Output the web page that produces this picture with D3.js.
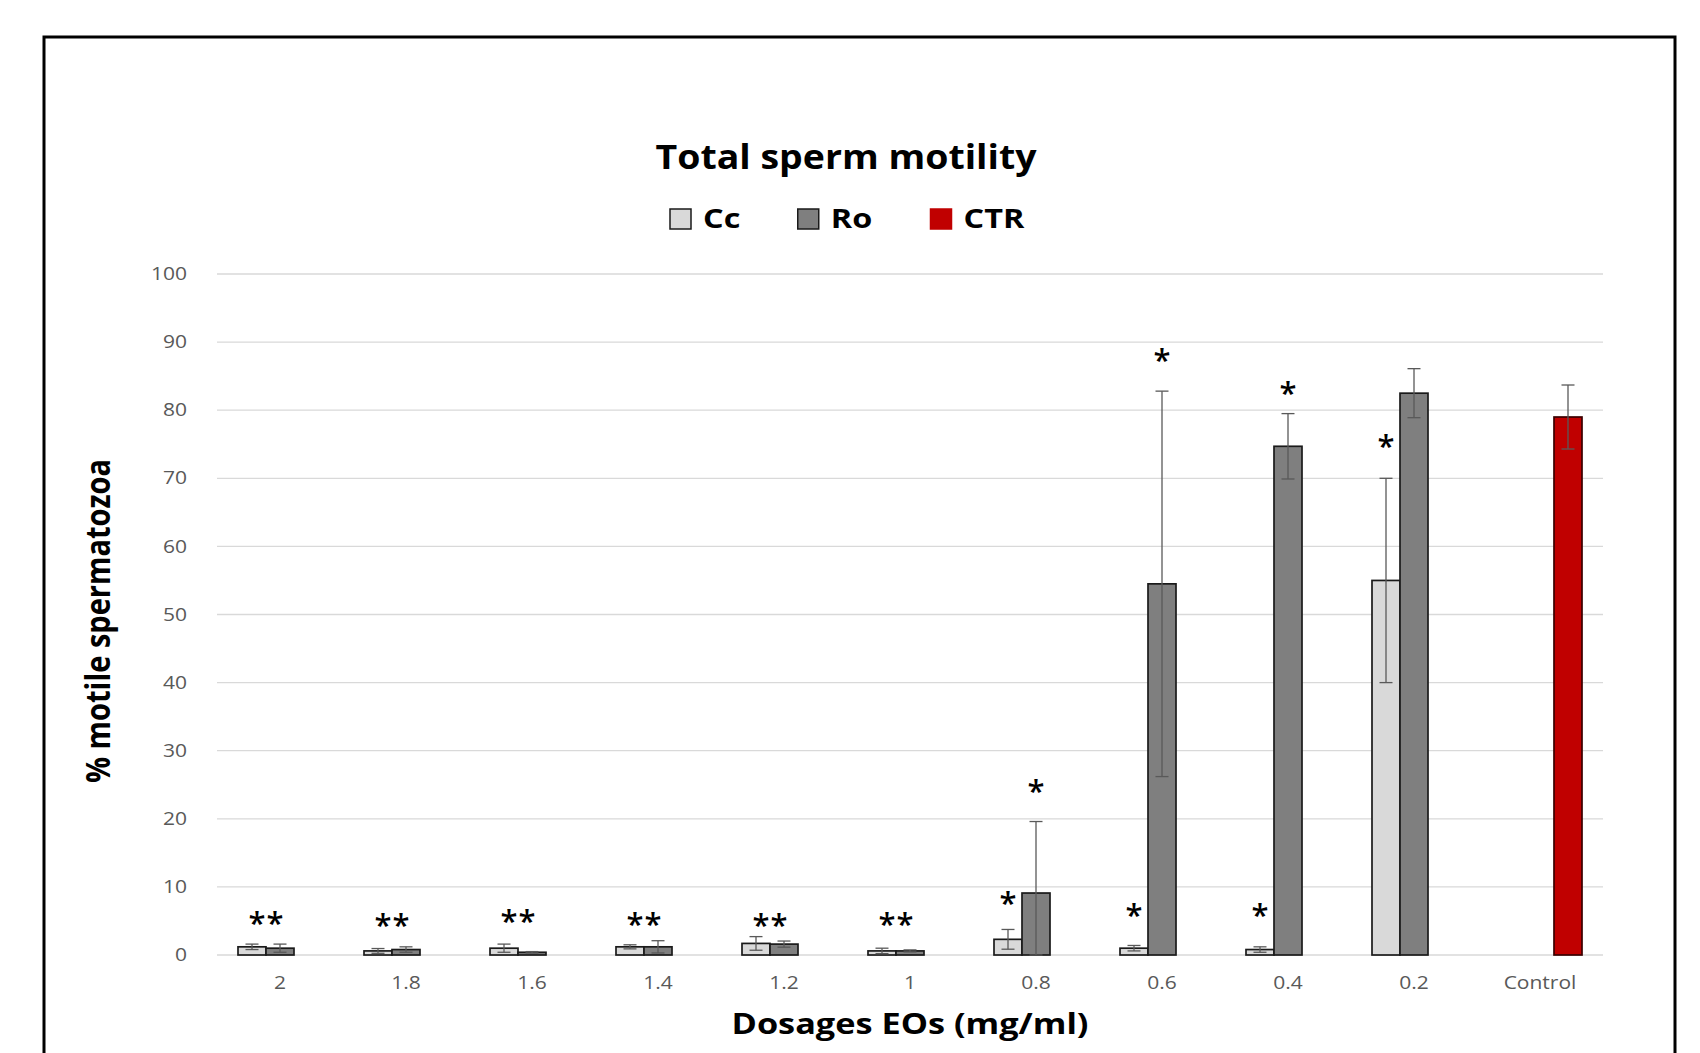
<!DOCTYPE html>
<html>
<head>
<meta charset="utf-8">
<script src="https://cdn.jsdelivr.net/npm/d3@7"></script>
<style>
  body { margin: 0; background: #fff; }
  svg { display: block; font-family: "Open Sans", sans-serif; }
</style>
</head>
<body>
<svg id="chart" width="1700" height="1053"></svg>
<script>
// --- data ---
const categories = ["2", "1.8", "1.6", "1.4", "1.2", "1", "0.8", "0.6", "0.4", "0.2", "Control"];
const series = ["Cc", "Ro", "CTR"];
const seriesColors = ["#d9d9d9", "#7f7f7f", "#c00000"];

const ccMean = [1.2, 0.6, 1.0, 1.2, 1.7, 0.6, 2.3, 1.0, 0.8, 55.0, null];
const ccErr  = [0.4, 0.35, 0.6, 0.3, 1.0, 0.4, 1.45, 0.4, 0.4, 15.0, null];
const roMean = [1.0, 0.8, 0.4, 1.2, 1.6, 0.6, 9.1, 54.5, 74.7, 82.5, null];
const roErr  = [0.6, 0.4, 0.1, 0.9, 0.45, 0.15, 10.5, 28.3, 4.8, 3.6, null];
const ctrMean = [null, null, null, null, null, null, null, null, null, null, 79.0];
const ctrErr  = [null, null, null, null, null, null, null, null, null, null, 4.7];

const yTicks = [0, 10, 20, 30, 40, 50, 60, 70, 80, 90, 100];

// significance marks: which bar(s) and at what level (in % units)
const sigMarks = [
  { cat: "2",   on: "pair", text: "**", level: 5.4 },
  { cat: "1.8", on: "pair", text: "**", level: 5.1 },
  { cat: "1.6", on: "pair", text: "**", level: 5.6 },
  { cat: "1.4", on: "pair", text: "**", level: 5.2 },
  { cat: "1.2", on: "pair", text: "**", level: 5.1 },
  { cat: "1",   on: "pair", text: "**", level: 5.2 },
  { cat: "0.8", on: "Cc",   text: "*",  level: 8.3 },
  { cat: "0.8", on: "Ro",   text: "*",  level: 24.8 },
  { cat: "0.6", on: "Cc",   text: "*",  level: 6.6 },
  { cat: "0.6", on: "Ro",   text: "*",  level: 88.1 },
  { cat: "0.4", on: "Cc",   text: "*",  level: 6.6 },
  { cat: "0.4", on: "Ro",   text: "*",  level: 83.2 },
  { cat: "0.2", on: "Cc",   text: "*",  level: 75.4 }
];

const svg = d3.select("#chart");
const plot = { left: 217, right: 1603, top: 274, bottom: 955 };
const SX = 1.2; // the source picture is stretched sideways

// widen text horizontally
const stretch = (sel, k) => sel.each(function () {
  const n = this.getComputedTextLength();
  d3.select(this).attr("textLength", n * k).attr("lengthAdjust", "spacingAndGlyphs");
});

// outer frame
svg.append("rect")
  .attr("x", 44).attr("y", 37)
  .attr("width", 1631).attr("height", 1100)
  .attr("fill", "#fff").attr("stroke", "#000").attr("stroke-width", 3);

const y = d3.scaleLinear().domain([0, 100]).range([plot.bottom, plot.top]);
const x0 = d3.scaleBand().domain(categories).range([plot.left, plot.right]);
const bw = x0.bandwidth();
const x1 = d3.scaleBand().domain(series).range([bw / 6, bw * 5 / 6]);

// gridlines
svg.append("g").selectAll("line")
  .data(yTicks).enter().append("line")
  .attr("x1", plot.left).attr("x2", plot.right)
  .attr("y1", d => y(d)).attr("y2", d => y(d))
  .attr("stroke", "#d9d9d9").attr("stroke-width", 1.3);

// y axis labels
const yAxis = svg.append("g")
  .attr("transform", `translate(${plot.left - 30},0)`)
  .call(d3.axisLeft(y).tickValues(yTicks).tickSize(0).tickPadding(0));
yAxis.select(".domain").remove();
yAxis.selectAll("text")
  .attr("fill", "#595959").style("font-size", "17.5px")
  .style("font-family", "'Open Sans', sans-serif")
  .call(stretch, SX);

// x axis labels
const xAxis = svg.append("g")
  .attr("transform", `translate(0,${plot.bottom})`)
  .call(d3.axisBottom(x0).tickSize(0).tickPadding(22));
xAxis.select(".domain").remove();
xAxis.selectAll("text")
  .attr("fill", "#595959").style("font-size", "17.5px")
  .style("font-family", "'Open Sans', sans-serif")
  .call(stretch, SX);

// bars
const table = [];
categories.forEach((c, i) => {
  [[ccMean, ccErr], [roMean, roErr], [ctrMean, ctrErr]].forEach(([m, e], s) => {
    if (m[i] != null) table.push({ cat: c, series: series[s], color: seriesColors[s], v: m[i], err: e[i] });
  });
});

svg.append("g").selectAll("rect")
  .data(table).enter().append("rect")
  .attr("x", d => x0(d.cat) + x1(d.series))
  .attr("y", d => y(d.v))
  .attr("width", x1.bandwidth())
  .attr("height", d => y(0) - y(d.v))
  .attr("fill", d => d.color)
  .attr("stroke", d => d.series === "CTR" ? "#3a0000" : "#1a1a1a")
  .attr("stroke-width", 1.7);

// error bars
const capW = 13;
const eb = svg.append("g").attr("stroke", "#595959").attr("stroke-width", 1.3);
table.forEach(d => {
  const cx = x0(d.cat) + x1(d.series) + x1.bandwidth() / 2;
  const lo = y(Math.max(0, d.v - d.err)), hi = y(d.v + d.err);
  eb.append("line").attr("x1", cx).attr("x2", cx).attr("y1", lo).attr("y2", hi);
  eb.append("line").attr("x1", cx - capW / 2).attr("x2", cx + capW / 2).attr("y1", hi).attr("y2", hi);
  eb.append("line").attr("x1", cx - capW / 2).attr("x2", cx + capW / 2).attr("y1", lo).attr("y2", lo);
});

// significance asterisks
svg.append("g").selectAll("text")
  .data(sigMarks).enter().append("text")
  .attr("x", d => {
    if (d.on === "pair") return x0(d.cat) + x1("Ro");
    return x0(d.cat) + x1(d.on) + x1.bandwidth() / 2;
  })
  .attr("y", d => y(d.level))
  .attr("dy", "0.5em")
  .attr("text-anchor", "middle")
  .style("font-size", "31px").style("font-weight", 600)
  .attr("fill", "#000")
  .text(d => d.text)
  .each(function (d) {
    if (d.text.length > 1) d3.select(this).attr("textLength", 35).attr("lengthAdjust", "spacing");
  });

// title
svg.append("text")
  .attr("x", 846).attr("y", 157).attr("dy", "0.35em")
  .attr("text-anchor", "middle")
  .style("font-size", "34px").style("font-weight", 700)
  .attr("fill", "#000")
  .attr("textLength", 381).attr("lengthAdjust", "spacingAndGlyphs")
  .text("Total sperm motility");

// legend
const legend = svg.append("g").attr("transform", "translate(670,219)");
let lx = 0;
series.forEach((s, i) => {
  const item = legend.append("g").attr("transform", `translate(${lx},0)`);
  item.append("rect")
    .attr("x", 0).attr("y", -10).attr("width", 21).attr("height", 20)
    .attr("fill", seriesColors[i])
    .attr("stroke", s === "CTR" ? seriesColors[i] : "#1a1a1a").attr("stroke-width", 1.5);
  const t = item.append("text")
    .attr("x", 33).attr("y", 0).attr("dy", "0.35em")
    .style("font-size", "27px").style("font-weight", 700)
    .attr("fill", "#000")
    .text(s)
    .call(stretch, SX);
  lx += 33 + t.node().getComputedTextLength() * SX + 50;
});

// axis titles
svg.append("text")
  .attr("transform", `translate(98,621) scale(${SX},1) rotate(-90)`)
  .attr("dy", "0.35em")
  .attr("text-anchor", "middle")
  .style("font-size", "29px").style("font-weight", 700)
  .attr("fill", "#000")
  .text("% motile spermatozoa");

svg.append("text")
  .attr("x", 910).attr("y", 1024).attr("dy", "0.35em")
  .attr("text-anchor", "middle")
  .style("font-size", "29px").style("font-weight", 700)
  .attr("fill", "#000")
  .attr("textLength", 357).attr("lengthAdjust", "spacingAndGlyphs")
  .text("Dosages EOs (mg/ml)");
</script>
</body>
</html>
